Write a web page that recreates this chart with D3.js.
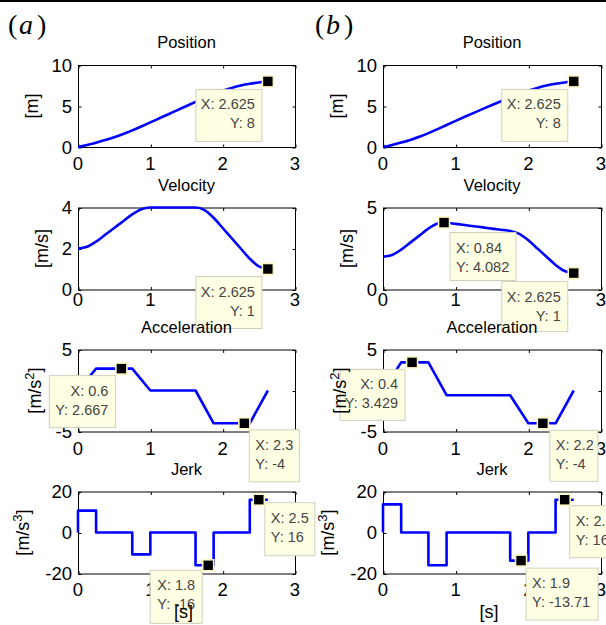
<!DOCTYPE html>
<html>
<head>
<meta charset="utf-8">
<script src="https://cdn.jsdelivr.net/npm/d3@7"></script>
<style>
  html, body { margin: 0; padding: 0; background: #fff; }
  svg { display: block; }
  text { font-family: Arial, "Liberation Sans", Helvetica, sans-serif; }
</style>
</head>
<body>
<svg id="chart" width="606" height="625"></svg>
<script>
// ---------------- DATA ----------------
const panelLabels = ["a", "b"];
const titles = ["Position", "Velocity", "Acceleration", "Jerk"];
const xLabel = "[s]";
const xTicks = [0, 1, 2, 3];

const timeGrid = [0, 0.125, 0.25, 0.375, 0.5, 0.625, 0.75, 0.875, 1.0, 1.125, 1.25,
                  1.375, 1.5, 1.625, 1.75, 1.875, 2.0, 2.125, 2.25, 2.375, 2.5, 2.625];

// column (a)
const positionA = [0, 0.254, 0.528, 0.840, 1.194, 1.590, 2.028, 2.504, 3.0, 3.5, 4.0,
                   4.5, 5.0, 5.5, 5.995, 6.458, 6.865, 7.208, 7.490, 7.708, 7.870, 8.0];
const velocityA = [2.0, 2.083, 2.333, 2.667, 3.0, 3.333, 3.667, 3.917, 4.0, 4.0, 4.0,
                   4.0, 4.0, 4.0, 3.875, 3.5, 3.0, 2.5, 2.0, 1.5, 1.125, 1.0];
const accelTimeA = [0, 0.25, 0.75, 1.0, 1.625, 1.875, 2.375, 2.625];
const accelA     = [0, 2.667, 2.667, 0, 0, -4, -4, 0];
const jerkTimeA  = [0, 0, 0.25, 0.75, 1.0, 1.625, 1.875, 2.375, 2.625];
const jerkA      = [0, 10.667, 0, -10.667, 0, -16, 0, 16, 16];

// column (b)
const positionB = [0, 0.255, 0.536, 0.866, 1.25, 1.688, 2.173, 2.682, 3.186, 3.682, 4.168,
                   4.646, 5.115, 5.574, 6.025, 6.463, 6.865, 7.208, 7.490, 7.708, 7.870, 8.0];
const velTimeB  = [0, 0.125, 0.25, 0.375, 0.5, 0.625, 0.75, 0.84, 0.875, 1.0, 1.125, 1.25,
                   1.375, 1.5, 1.625, 1.75, 1.875, 2.0, 2.125, 2.25, 2.375, 2.5, 2.625];
const velocityB = [2.0, 2.107, 2.429, 2.857, 3.286, 3.714, 4.018, 4.082, 4.071, 4.0, 3.929, 3.857,
                   3.786, 3.714, 3.643, 3.571, 3.393, 3.0, 2.5, 2.0, 1.5, 1.125, 1.0];
const accelTimeB = [0, 0.25, 0.625, 0.875, 1.75, 2.0, 2.375, 2.625];
const accelB     = [0, 3.429, 3.429, -0.571, -0.571, -4, -4, 0];
const jerkTimeB  = [0, 0, 0.25, 0.625, 0.875, 1.75, 2.0, 2.375, 2.625];
const jerkB      = [0, 13.714, 0, -16, 0, -13.714, 0, 16, 16];

// axes
const yDomainsA = [[0, 10], [0, 4], [-5, 5], [-20, 20]];
const yDomainsB = [[0, 10], [0, 5], [-5, 5], [-20, 20]];
const yTicksA = [[0, 5, 10], [0, 2, 4], [-5, 0, 5], [-20, 0, 20]];
const yTicksB = [[0, 5, 10], [0, 5], [-5, 0, 5], [-20, 0, 20]];
const yUnitMain = ["[m]", "[m/s]", "[m/s", "[m/s"];
const yUnitSup  = ["", "", "2", "3"];

// data tips: [x, y, "X text", "Y text"]
const tipsA = [
  [[2.625, 8, "X: 2.625", "Y: 8"]],
  [[2.625, 1, "X: 2.625", "Y: 1"]],
  [[0.6, 2.667, "X: 0.6", "Y: 2.667"], [2.3, -4, "X: 2.3", "Y: -4"]],
  [[1.8, -16, "X: 1.8", "Y: -16"], [2.5, 16, "X: 2.5", "Y: 16"]]
];
const tipsB = [
  [[2.625, 8, "X: 2.625", "Y: 8"]],
  [[0.84, 4.082, "X: 0.84", "Y: 4.082"], [2.625, 1, "X: 2.625", "Y: 1"]],
  [[0.4, 3.429, "X: 0.4", "Y: 3.429"], [2.2, -4, "X: 2.2", "Y: -4"]],
  [[1.9, -13.71, "X: 1.9", "Y: -13.71"], [2.5, 16, "X: 2.5", "Y: 16"]]
];

// ---------------- LAYOUT (positions / styles) ----------------
const colLeft = [78, 383];
const colWidth = [217, 218];
const rowTop = [65, 207.5, 349.5, 491.5];
const rowH = 82;
const xLabelOffset = [16, 10, 16.5, 16];   // centre of x tick labels below axis
const yLabelOffset = [46, 36, 43, 55];     // ylabel centre left of axis
// tip box layout: [dx, dy, w, h, align] relative to marker pixel position
const tipLayoutA = [
  [[-72, 8, 66, 52, "r"]],
  [[-72, 7.5, 66, 52, "r"]],
  [[-72, 7, 66, 52, "r"], [5, 6.5, 50, 52, "l"]],
  [[-58, 5, 52, 53, "r"], [6, 3, 50, 53, "l"]]
];
const tipLayoutB = [
  [[-72, 8, 66, 52, "r"]],
  [[6, 10, 66, 48, "l"], [-72, 8.5, 66, 50, "r"]],
  [[-72, 7, 65, 51, "r"], [7, 7, 48, 51, "l"]],
  [[5, 7.5, 72, 52, "l"], [5, 6, 50, 52, "l"]]
];
const lineColor = "#0000ff";

// ---------------- DRAW ----------------
const svg = d3.select("#chart");
svg.append("rect").attr("width", 606).attr("height", 625).attr("fill", "#fff");
svg.append("line").attr("x1", 0).attr("x2", 606).attr("y1", 1).attr("y2", 1)
  .attr("stroke", "#000").attr("stroke-width", 2);

// panel labels (a), (b)
const plX = [[8, 19, 37], [315, 326, 344]];
panelLabels.forEach((lab, c) => {
  const t = svg.append("text").attr("y", 34)
    .style("font-family", "'Liberation Serif', 'Times New Roman', serif")
    .style("font-size", "28px").attr("fill", "#000");
  t.append("tspan").attr("x", plX[c][0]).text("(");
  t.append("tspan").attr("x", plX[c][1]).style("font-style", "italic").text(lab);
  t.append("tspan").attr("x", plX[c][2]).text(")");
});

const columns = [
  {
    series: [
      {t: timeGrid, v: positionA, curve: d3.curveMonotoneX},
      {t: timeGrid, v: velocityA, curve: d3.curveMonotoneX},
      {t: accelTimeA, v: accelA, curve: d3.curveLinear},
      {t: jerkTimeA, v: jerkA, curve: d3.curveStepAfter}
    ],
    yDomains: yDomainsA, yTicks: yTicksA, tips: tipsA, tipLayout: tipLayoutA
  },
  {
    series: [
      {t: timeGrid, v: positionB, curve: d3.curveMonotoneX},
      {t: velTimeB, v: velocityB, curve: d3.curveMonotoneX},
      {t: accelTimeB, v: accelB, curve: d3.curveLinear},
      {t: jerkTimeB, v: jerkB, curve: d3.curveStepAfter}
    ],
    yDomains: yDomainsB, yTicks: yTicksB, tips: tipsB, tipLayout: tipLayoutB
  }
];

for (let r = 0; r < 4; r++) {
  for (let c = 0; c < 2; c++) {
    const col = columns[c];
    const L = colLeft[c], R = colLeft[c] + colWidth[c];
    const T = rowTop[r], B = rowTop[r] + rowH;
    const x = d3.scaleLinear().domain([0, 3]).range([L, R]);
    const y = d3.scaleLinear().domain(col.yDomains[r]).range([B, T]);
    const g = svg.append("g");

    // frame
    g.append("rect").attr("x", L + 0.5).attr("y", T + 0.5)
      .attr("width", R - L).attr("height", B - T)
      .attr("fill", "none").attr("stroke", "#000").attr("stroke-width", 1);

    // inner ticks on all sides via d3 axes
    const tickLen = 3;
    const axB = d3.axisBottom(x).tickValues(xTicks).tickSize(-tickLen).tickFormat("");
    const axT = d3.axisTop(x).tickValues(xTicks).tickSize(-tickLen).tickFormat("");
    const axL = d3.axisLeft(y).tickValues(col.yTicks[r]).tickSize(-tickLen).tickFormat("");
    const axR = d3.axisRight(y).tickValues(col.yTicks[r]).tickSize(-tickLen).tickFormat("");
    [[axB, `translate(0.5,${B + 0.5})`], [axT, `translate(0.5,${T + 0.5})`],
     [axL, `translate(${L + 0.5},0.5)`], [axR, `translate(${R + 0.5},0.5)`]].forEach(([ax, tr]) => {
      const a = g.append("g").attr("transform", tr).call(ax);
      a.select(".domain").remove();
      a.selectAll("line").attr("stroke", "#000");
    });

    // tick labels
    g.selectAll(null).data(xTicks).enter().append("text")
      .attr("x", d => x(d)).attr("y", B + xLabelOffset[r] + 6.5)
      .attr("text-anchor", "middle").style("font-size", "18.5px").attr("fill", "#000")
      .text(d => d);
    g.selectAll(null).data(col.yTicks[r]).enter().append("text")
      .attr("x", L - 6).attr("y", d => y(d) + 6.5)
      .attr("text-anchor", "end").style("font-size", "18.5px").attr("fill", "#000")
      .text(d => d);

    // curve
    const s = col.series[r];
    const pts = s.t.map((t, i) => [t, s.v[i]]);
    g.append("path").datum(pts)
      .attr("d", d3.line().x(d => x(d[0])).y(d => y(d[1])).curve(s.curve))
      .attr("fill", "none").attr("stroke", lineColor).attr("stroke-width", 2.6)
      .attr("stroke-linejoin", "round");

    // data tips
    col.tips[r].forEach((tp, k) => {
      const lay = col.tipLayout[r][k];
      const mx = x(tp[0]), my = y(tp[1]);
      const bx = mx + lay[0], by = my + lay[1];
      g.append("rect").attr("x", bx).attr("y", by).attr("width", lay[2]).attr("height", lay[3])
        .attr("fill", "#ffffe4").attr("stroke", "#cfcfbd").attr("stroke-width", 1);
      const tx = lay[4] === "r" ? bx + lay[2] - 7 : bx + 6;
      const anchor = lay[4] === "r" ? "end" : "start";
      [tp[2], tp[3]].forEach((txt, j) => {
        g.append("text").attr("x", tx).attr("y", by + 20 + j * 19)
          .attr("text-anchor", anchor).style("font-size", "14.5px").attr("fill", "#444")
          .text(txt);
      });
      g.append("rect").attr("x", mx - 5.5).attr("y", my - 5.5).attr("width", 11).attr("height", 11)
        .attr("fill", "#000").attr("stroke", "#fbf6c4").attr("stroke-width", 1.6);
    });

    // title
    g.append("text").attr("x", (L + R) / 2).attr("y", T - 17)
      .attr("text-anchor", "middle").style("font-size", "16.5px").attr("fill", "#000")
      .text(titles[r]);

    // y label
    const yl = g.append("text")
      .attr("transform", `translate(${L - yLabelOffset[r]},${(T + B) / 2}) rotate(-90)`)
      .attr("text-anchor", "middle").attr("dy", "0.35em")
      .style("font-size", "18px").attr("fill", "#000");
    yl.append("tspan").text(yUnitMain[r]);
    if (yUnitSup[r]) {
      yl.append("tspan").attr("dy", -7).style("font-size", "13px").text(yUnitSup[r]);
      yl.append("tspan").attr("dy", 7).text("]");
    }

    // x label on bottom row
    if (r === 3) {
      g.append("text").attr("x", (L + R) / 2 - 3).attr("y", 618)
        .attr("text-anchor", "middle").style("font-size", "18px").attr("fill", "#000")
        .text(xLabel);
    }
  }
}
</script>
</body>
</html>
